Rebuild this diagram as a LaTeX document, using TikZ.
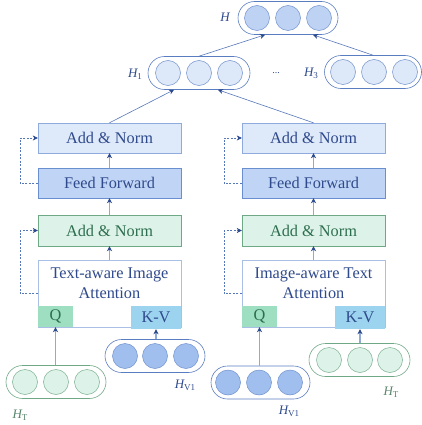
\documentclass[tikz,border=0pt]{standalone}
\usepackage{fontspec}
\setmainfont{Liberation Serif}
\usetikzlibrary{arrows.meta,calc}
\definecolor{txtblue}{HTML}{2F4A8C}
\definecolor{txtgreen}{HTML}{2E6E4E}
\definecolor{lineblue}{HTML}{5677B8}
\definecolor{vlineblue}{HTML}{8FA9D8}
\definecolor{arrblue}{HTML}{2B4A8E}
\definecolor{anfill}{HTML}{DEE9F9}
\definecolor{andraw}{HTML}{8FAADC}
\definecolor{fffill}{HTML}{C0D5F5}
\definecolor{ffdraw}{HTML}{6A8FD0}
\definecolor{gfill}{HTML}{DDF3E9}
\definecolor{gdraw}{HTML}{6FA887}
\definecolor{attdraw}{HTML}{A9BFE5}
\definecolor{qfill}{HTML}{9EDFC1}
\definecolor{kvfill}{HTML}{9CD3EF}
\definecolor{hfill}{HTML}{BED3F3}
\definecolor{hofill}{HTML}{DDE8F8}
\definecolor{vfill}{HTML}{A0BFEE}
\definecolor{cblue}{HTML}{7090CC}
\definecolor{cgreen}{HTML}{7AAE90}
\definecolor{capblue}{HTML}{5A7CC0}
\tikzset{
  box/.style={rectangle,minimum width=143pt,inner sep=0pt,text=txtblue,font=\fontsize{16.3}{19}\selectfont},
  anbox/.style={box,fill=anfill,draw=andraw,minimum height=30pt},
  ffbox/.style={box,fill=fffill,draw=ffdraw,minimum height=30pt},
  gbox/.style={box,fill=gfill,draw=gdraw,text=txtgreen,minimum height=31pt},
  attbox/.style={box,fill=white,draw=attdraw,minimum height=67pt},
  qbox/.style={rectangle,fill=qfill,inner sep=0pt,minimum width=35pt,minimum height=21pt,text=txtgreen,font=\fontsize{16.3}{19}\selectfont},
  kvbox/.style={rectangle,fill=kvfill,inner sep=0pt,minimum width=50pt,minimum height=23pt,text=txtblue,font=\fontsize{16.3}{19}\selectfont},
  capsule/.style={rectangle,rounded corners=16.5pt,minimum height=33pt,inner sep=0pt,line width=0.6pt},
  capb/.style={capsule,draw=capblue},
  capg/.style={capsule,draw=gdraw},
  circ/.style={circle,minimum size=25pt,inner sep=0pt,line width=0.5pt},
  lbl/.style={inner sep=0pt,text=txtblue,font=\fontsize{13}{15}\selectfont\itshape},
  lblg/.style={lbl,text=gdraw!80!black},
  conn/.style={draw=lineblue,line width=0.6pt,-{Stealth[length=5pt,width=5pt,inset=1.5pt,color=arrblue]}},
  vconn/.style={conn,draw=vlineblue,line width=1.1pt},
  dconn/.style={conn,dash pattern=on 2pt off 1.5pt},
}
\newcommand{\sub}[1]{\raisebox{-0.35ex}{\fontsize{9}{10}\selectfont\upshape #1}}
\begin{document}
\begin{tikzpicture}[x=1pt,y=-1pt]
\useasboundingbox (0,0) rectangle (422,425);
% ---------- top H ----------
\node[capb,minimum width=100pt] (H) at (288,18) {};
\foreach \x/\n in {257/a,288/b,319/c} \node[circ,fill=hfill,draw=cblue] (H\n) at (\x,18) {};
\node[lbl] (Hl) at (225,17) {H};
% ---------- H1 ----------
\node[capb,minimum width=102pt] (H1) at (199,73) {};
\foreach \x/\n in {168/a,199/b,230/c} \node[circ,fill=hofill,draw=cblue] (H1\n) at (\x,73) {};
\node[lbl] (H1l) at (135,74) {H\sub{1}};
\node[text=txtblue,inner sep=0pt,font=\fontsize{10}{12}\selectfont] (dots) at (276,73) {...};
% ---------- H3 ----------
\node[capb,minimum width=97pt] (H3) at (373,72) {};
\foreach \x/\n in {343/a,374/b,405/c} \node[circ,fill=hofill,draw=cblue] (H3\n) at (\x,72) {};
\node[lbl] (H3l) at (311,73) {H\sub{3}};
% ---------- left column ----------
\node[anbox] (LAN2) at (109.5,138) {Add \& Norm};
\node[ffbox] (LFF) at (109.5,183) {Feed Forward};
\node[gbox] (LAN1) at (109.5,230.5) {Add \& Norm};
\node[attbox] (LAtt) at (109.5,293.5) {};
\node[text=txtblue,align=center,inner sep=0pt,font=\fontsize{16.3}{20}\selectfont] (LAttT) at (109.5,283) {Text-aware Image\\Attention};
\node[qbox] (LQ) at (55.5,316.5) {Q};
\node[kvbox] (LKV) at (156,317.5) {K-V};
% ---------- right column ----------
\node[anbox] (RAN2) at (313.5,138) {Add \& Norm};
\node[ffbox] (RFF) at (313.5,183) {Feed Forward};
\node[gbox] (RAN1) at (313.5,230.5) {Add \& Norm};
\node[attbox] (RAtt) at (313.5,293.5) {};
\node[text=txtblue,align=center,inner sep=0pt,font=\fontsize{16.3}{20}\selectfont] (RAttT) at (313.5,283) {Image-aware Text\\Attention};
\node[qbox] (RQ) at (259.5,316.5) {Q};
\node[kvbox] (RKV) at (360,317.5) {K-V};
% ---------- bottom inputs ----------
\node[capg,minimum width=100pt] (LT) at (56,382) {};
\foreach \x/\n in {25/a,56/b,87/c} \node[circ,fill=gfill,draw=cgreen] (LT\n) at (\x,382) {};
\node[lblg] (LTl) at (20,415) {H\sub{T}};
\node[capb,minimum width=100pt] (LV) at (155,356) {};
\foreach \x/\n in {125/a,155/b,186/c} \node[circ,fill=vfill,draw=cblue] (LV\n) at (\x,356) {};
\node[lbl] (LVl) at (185,385) {H\sub{V1}};
\node[capb,minimum width=99pt] (RV) at (260.5,382.5) {};
\foreach \x/\n in {228/a,259/b,290/c} \node[circ,fill=vfill,draw=cblue] (RV\n) at (\x,382.5) {};
\node[lbl] (RVl) at (289,411) {H\sub{V1}};
\node[capg,minimum width=101pt] (RT) at (359.5,360) {};
\foreach \x/\n in {329/a,360/b,390/c} \node[circ,fill=gfill,draw=cgreen] (RT\n) at (\x,360) {};
\node[lblg] (RTl) at (391,392) {H\sub{T}};
% ---------- connectors ----------
\draw[conn] (H1.north) -- ([xshift=-23pt]H.south);
\draw[conn] (H3.north) -- ([xshift=25pt]H.south);
\draw[conn] (LAN2.north) -- ([xshift=-25pt]H1.south);
\draw[conn] (RAN2.north) -- ([xshift=19pt]H1.south);
\foreach \s in {L,R}{
  \draw[vconn] (\s Att.north) -- (\s AN1.south);
  \draw[vconn] (\s AN1.north) -- (\s FF.south);
  \draw[vconn] (\s FF.north) -- (\s AN2.south);
  \draw[dconn] (\s FF.west) -- ++(-18,0) |- (\s AN2.west);
  \draw[dconn] (\s Att.west) -- ++(-18,0) |- (\s AN1.west);
}
\draw[vconn] (LT.north -| LQ.south) -- (LQ.south);
\draw[vconn] (LV.north -| LKV.south) -- (LKV.south);
\draw[vconn] (RV.north -| RQ.south) -- (RQ.south);
\draw[vconn] (RT.north -| RKV.south) -- (RKV.south);
\end{tikzpicture}
\end{document}
